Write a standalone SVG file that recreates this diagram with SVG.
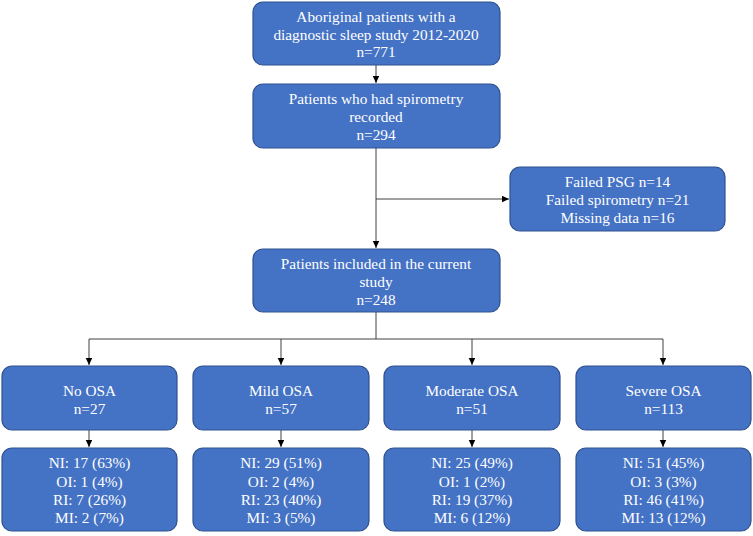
<svg xmlns="http://www.w3.org/2000/svg" width="753" height="536" viewBox="0 0 753 536">
<defs>
<marker id="ah" markerWidth="8" markerHeight="7" refX="7" refY="3.25" orient="auto" markerUnits="userSpaceOnUse">
<path d="M0,0 L7,3.25 L0,6.5 Z" fill="#000"/>
</marker>
<style>
.box{fill:#4472C4;stroke:#2F528F;stroke-width:1.2}
.t{font-family:"Liberation Serif","Times New Roman",serif;font-size:15.3px;fill:#fff;text-anchor:middle}
.c{fill:none;stroke:#404040;stroke-width:1}
</style>
</defs>
<rect width="753" height="536" fill="#fff"/>
<g id="connectors">
<line class="c" x1="376" y1="65" x2="376" y2="83" marker-end="url(#ah)"/>
<line class="c" x1="376" y1="148" x2="376" y2="248" marker-end="url(#ah)"/>
<line class="c" x1="376" y1="199" x2="509" y2="199" marker-end="url(#ah)"/>
<polyline class="c" points="376,312 376,339"/>
<line class="c" x1="89" y1="339" x2="663" y2="339"/>
<line class="c" x1="89" y1="339" x2="89" y2="365" marker-end="url(#ah)"/>
<line class="c" x1="281" y1="339" x2="281" y2="365" marker-end="url(#ah)"/>
<line class="c" x1="472" y1="339" x2="472" y2="365" marker-end="url(#ah)"/>
<line class="c" x1="663" y1="339" x2="663" y2="365" marker-end="url(#ah)"/>
<line class="c" x1="89" y1="430" x2="89" y2="447" marker-end="url(#ah)"/>
<line class="c" x1="281" y1="430" x2="281" y2="447" marker-end="url(#ah)"/>
<line class="c" x1="472" y1="430" x2="472" y2="447" marker-end="url(#ah)"/>
<line class="c" x1="663" y1="430" x2="663" y2="447" marker-end="url(#ah)"/>
</g>
<g id="n1">
<rect class="box" x="253" y="2" width="247" height="63" rx="10"/>
<text class="t" x="376" y="22">Aboriginal patients with a</text>
<text class="t" x="376" y="39.5">diagnostic sleep study 2012-2020</text>
<text class="t" x="376" y="57">n=771</text>
</g>
<g id="n2">
<rect class="box" x="253" y="84" width="247" height="64" rx="10"/>
<text class="t" x="376" y="104">Patients who had spirometry</text>
<text class="t" x="376" y="122">recorded</text>
<text class="t" x="376" y="140">n=294</text>
</g>
<g id="n_excl">
<rect class="box" x="510" y="167" width="215" height="64" rx="10"/>
<text class="t" x="617.5" y="187">Failed PSG n=14</text>
<text class="t" x="617.5" y="205">Failed spirometry n=21</text>
<text class="t" x="617.5" y="223">Missing data n=16</text>
</g>
<g id="n3">
<rect class="box" x="253" y="249" width="247" height="63" rx="10"/>
<text class="t" x="376" y="269">Patients included in the current</text>
<text class="t" x="376" y="287">study</text>
<text class="t" x="376" y="305">n=248</text>
</g>
<g id="g_no">
<rect class="box" x="2" y="366" width="175" height="64" rx="10"/>
<text class="t" x="89.5" y="396">No OSA</text>
<text class="t" x="89.5" y="414">n=27</text>
</g>
<g id="g_mild">
<rect class="box" x="193" y="366" width="176" height="64" rx="10"/>
<text class="t" x="281" y="396">Mild OSA</text>
<text class="t" x="281" y="414">n=57</text>
</g>
<g id="g_mod">
<rect class="box" x="384" y="366" width="176" height="64" rx="10"/>
<text class="t" x="472" y="396">Moderate OSA</text>
<text class="t" x="472" y="414">n=51</text>
</g>
<g id="g_sev">
<rect class="box" x="576" y="366" width="175" height="64" rx="10"/>
<text class="t" x="663.5" y="396">Severe OSA</text>
<text class="t" x="663.5" y="414">n=113</text>
</g>
<g id="r_no">
<rect class="box" x="2" y="448" width="175" height="83" rx="10"/>
<text class="t" x="89.5" y="468">NI: 17 (63%)</text>
<text class="t" x="89.5" y="486.5">OI: 1 (4%)</text>
<text class="t" x="89.5" y="505">RI: 7 (26%)</text>
<text class="t" x="89.5" y="523">MI: 2 (7%)</text>
</g>
<g id="r_mild">
<rect class="box" x="193" y="448" width="176" height="83" rx="10"/>
<text class="t" x="281" y="468">NI: 29 (51%)</text>
<text class="t" x="281" y="486.5">OI: 2 (4%)</text>
<text class="t" x="281" y="505">RI: 23 (40%)</text>
<text class="t" x="281" y="523">MI: 3 (5%)</text>
</g>
<g id="r_mod">
<rect class="box" x="384" y="448" width="176" height="83" rx="10"/>
<text class="t" x="472" y="468">NI: 25 (49%)</text>
<text class="t" x="472" y="486.5">OI: 1 (2%)</text>
<text class="t" x="472" y="505">RI: 19 (37%)</text>
<text class="t" x="472" y="523">MI: 6 (12%)</text>
</g>
<g id="r_sev">
<rect class="box" x="576" y="448" width="175" height="83" rx="10"/>
<text class="t" x="663.5" y="468">NI: 51 (45%)</text>
<text class="t" x="663.5" y="486.5">OI: 3 (3%)</text>
<text class="t" x="663.5" y="505">RI: 46 (41%)</text>
<text class="t" x="663.5" y="523">MI: 13 (12%)</text>
</g>
</svg>
